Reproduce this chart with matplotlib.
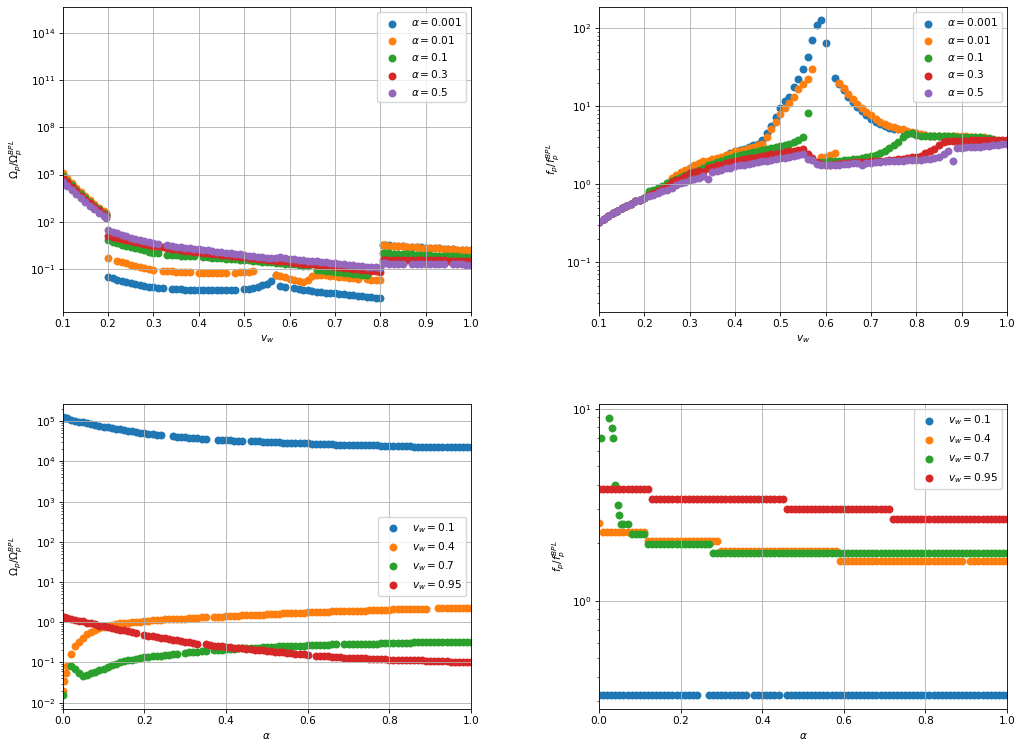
import numpy as np
import matplotlib
matplotlib.use('Agg')
import matplotlib.pyplot as plt

nan = np.nan

# ---------------- top-left: Omega_p / Omega_p^BPL vs v_w (log10 values) ----------------
alphas_top = [0.001, 0.01, 0.1, 0.3, 0.5]
vw_tl = np.round(np.concatenate([np.linspace(0.10, 0.19, 10), [0.195],
                                 np.linspace(0.20, 0.80, 61), [0.805],
                                 np.linspace(0.81, 1.00, 20)]), 3)

logO_a0001 = [4.95, 4.65, 4.35, 4.06, 3.79, 3.53, 3.28, 3.04, 2.82, 2.60,
              2.50,
              -1.51, -1.62, -1.71, -1.79, -1.86, -1.93, -1.99, -2.05, -2.10, -2.15,
              -2.19, -2.22, -2.25, nan, -2.29, -2.31, -2.32, -2.33, -2.34, -2.35,
              -2.36, -2.36, -2.36, -2.36, -2.36, -2.36, -2.35, -2.35, -2.34, nan,
              -2.31, -2.28, -2.23, -2.16, -2.07, -1.96, -1.80, -1.42, -2.10, -2.16,
              nan, -2.24, -2.29, -2.34, -2.38, -2.42, -2.46, -2.49, -2.52, -2.55,
              -2.58, -2.61, -2.64, -2.67, -2.70, -2.73, -2.76, -2.79, -2.82, -2.85,
              -2.88,
              0.52,
              0.50, 0.48, 0.46, 0.45, 0.43, 0.41, 0.40, 0.38, 0.36, 0.34,
              0.33, 0.31, 0.29, 0.28, 0.26, 0.24, 0.22, 0.21, 0.19, 0.17]
logO_a001 = [5.10, 4.78, 4.47, 4.17, 3.89, 3.62, 3.36, 3.11, 2.88, 2.66,
             2.55,
             -0.30, nan, -0.50, -0.58, -0.66, -0.76, -0.84, -0.91, -0.97, -1.02,
             -1.06, nan, -1.12, -1.15, -1.17, -1.19, -1.21, -1.22, -1.23, nan,
             -1.25, -1.26, -1.26, -1.26, -1.26, -1.26, -1.26, nan, -1.25, -1.24,
             -1.22, -1.20, -1.17, nan, nan, nan, nan, -1.40, -1.48, -1.56,
             -1.63, -1.70, -1.77, -1.84, -1.72, -1.48, -1.38, -1.40, -1.43, -1.46,
             -1.49, -1.52, -1.55, -1.58, -1.61, -1.64, nan, -1.68, -1.70, -1.72,
             -1.74,
             0.50,
             0.49, 0.47, 0.45, 0.44, 0.42, 0.40, 0.39, 0.37, 0.35, 0.34,
             0.32, 0.30, 0.29, 0.27, 0.25, 0.24, 0.22, 0.20, 0.19, 0.17]
logO_a01 = [4.90, 4.60, 4.31, 4.03, 3.76, 3.50, 3.25, 3.02, 2.80, 2.58,
            2.45,
            0.83, 0.72, 0.63, 0.54, 0.46, 0.38, 0.30, 0.23, 0.16, 0.09,
            0.03, -0.02, nan, -0.10, -0.12, -0.14, -0.16, -0.18, -0.20, -0.22,
            nan, -0.26, -0.28, -0.30, -0.32, -0.34, -0.36, -0.38, -0.40, -0.42,
            -0.45, -0.47, -0.50, -0.52, -0.55, -0.57, -0.60, -0.62, -0.64, -0.67,
            -0.70, -0.73, -0.76, -0.80, -0.84, nan, -1.08, -1.11, -1.14, -1.17,
            -1.20, -1.23, -1.26, -1.29, -1.32, -1.35, -1.38, -1.40, nan, nan,
            nan,
            0.00,
            -0.02, -0.03, -0.04, -0.05, -0.06, -0.08, -0.09, -0.10, -0.11, -0.13,
            -0.14, -0.16, -0.17, -0.18, -0.19, -0.21, -0.22, -0.23, -0.25, -0.26]
logO_a03 = [4.80, 4.50, 4.21, 3.93, 3.66, 3.41, 3.17, 2.94, 2.72, 2.50,
            2.38,
            1.10, 1.02, 0.94, 0.87, 0.80, 0.74, 0.68, 0.62, 0.57, 0.52,
            0.47, 0.42, 0.37, 0.31, 0.27, 0.23, 0.19, 0.15, 0.11, 0.07,
            0.04, 0.00, -0.03, -0.06, -0.09, -0.12, -0.15, -0.18, -0.21, -0.24,
            -0.27, -0.30, -0.33, -0.36, -0.39, -0.42, -0.45, -0.48, -0.51, -0.54,
            -0.58, -0.61, -0.64, -0.67, -0.70, -0.73, -0.76, -0.79, -0.82, -0.85,
            -0.88, -0.91, -0.94, -0.97, -1.00, -1.03, -1.06, -1.09, -1.12, -1.15,
            -1.18,
            -0.43,
            -0.43, -0.43, -0.44, -0.44, -0.44, -0.45, -0.45, -0.45, -0.46, -0.46,
            -0.46, -0.47, -0.47, -0.47, -0.48, -0.48, -0.48, -0.49, -0.49, -0.50]
logO_a05 = [4.55, 4.27, 4.00, 3.74, 3.49, 3.25, 3.02, 2.80, 2.58, 2.38,
            2.25,
            1.47, 1.36, 1.25, 1.15, 1.06, 0.98, 0.90, 0.83, 0.75, 0.68,
            0.62, 0.57, nan, 0.48, 0.44, 0.39, 0.36, 0.33, 0.30, 0.27,
            0.24, 0.20, 0.16, 0.12, 0.09, 0.05, 0.02, -0.02, -0.06, -0.09,
            -0.13, -0.17, -0.21, -0.25, -0.28, -0.32, -0.35, -0.33, -0.25, -0.33,
            -0.38, -0.41, -0.44, -0.46, -0.49, -0.51, -0.54, -0.57, -0.60, -0.63,
            -0.66, -0.69, -0.72, -0.75, -0.78, -0.81, -0.84, -0.87, -0.90, -0.92,
            -0.95,
            -0.66,
            -0.66, -0.67, -0.67, -0.68, -0.68, nan, -0.69, -0.69, -0.70, -0.70,
            -0.70, -0.71, -0.71, -0.72, nan, -0.72, -0.73, -0.73, -0.74, -0.74]

# ---------------- top-right: f_p / f_p^BPL vs v_w (log10 values) ----------------
vw_tr = np.round(np.linspace(0.10, 1.00, 91), 3)

logF_a0001 = [-0.49, -0.45, -0.41, -0.37, -0.34, -0.31, -0.28, -0.25, -0.22, -0.20, -0.18,
              -0.12, -0.10, -0.07, -0.04, 0.00, 0.05, 0.10, 0.13, 0.17, 0.20,
              0.22, 0.24, 0.26, 0.28, 0.30, 0.32, 0.34, 0.36, 0.40, 0.43,
              0.44, 0.45, 0.47, 0.50, 0.52, 0.57, 0.65, 0.74, 0.86, 0.98,
              1.06, 1.11, 1.25, 1.35, 1.47, 1.63, 1.85, 2.04, 2.10, 1.81,
              nan, 1.36, 1.28, 1.20, 1.12, 1.05, 0.99, 0.94, 0.89, 0.84,
              0.80, 0.77, 0.74, 0.72, 0.71, 0.70, 0.69, 0.67, 0.66, 0.65,
              0.63, 0.63, 0.62, 0.62, 0.62, nan, nan, nan, nan, nan,
              nan, nan, nan, nan, nan, nan, nan, nan, nan, nan]
logF_a001 = [-0.49, -0.45, -0.41, -0.37, -0.34, -0.31, -0.28, -0.25, -0.22, -0.20, -0.18,
             -0.13, -0.11, -0.08, -0.05, 0.02, 0.08, 0.12, 0.15, 0.18, 0.21,
             0.25, 0.27, 0.29, 0.30, 0.32, 0.33, 0.35, 0.37, 0.39, 0.42,
             0.43, 0.44, 0.46, 0.48, 0.50, 0.51, 0.60, 0.70, 0.80, 0.90,
             0.97, 1.04, 1.12, 1.22, 1.28, 1.35, 1.47, nan, 0.35, 0.35,
             0.37, 0.40, 1.30, 1.23, 1.16, 1.09, 1.03, 0.98, 0.93, 0.88,
             0.83, 0.80, 0.77, 0.75, 0.73, 0.71, 0.70, 0.68, 0.67, 0.65,
             0.64, 0.63, 0.62, 0.62, 0.62, 0.62, 0.61, 0.61, 0.61, 0.61,
             0.61, 0.60, 0.60, 0.60, 0.60, nan, nan, nan, nan, nan]
logF_a01 = [-0.49, -0.45, -0.41, -0.37, -0.34, -0.31, -0.28, -0.25, -0.22, -0.20, -0.18,
            -0.09, -0.07, -0.05, -0.03, 0.01, 0.04, 0.07, 0.09, 0.12, 0.14,
            0.16, 0.18, 0.20, 0.25, 0.26, 0.28, 0.30, 0.32, 0.34, 0.36,
            0.37, 0.38, 0.40, 0.41, 0.42, 0.44, 0.45, 0.46, 0.47, 0.49,
            0.50, 0.52, 0.54, 0.57, 0.60, 0.91, nan, 0.27, 0.28, 0.28,
            0.29, 0.30, 0.30, 0.31, 0.31, 0.32, 0.32, 0.33, 0.35, 0.36,
            0.37, 0.40, 0.42, 0.46, 0.50, 0.54, 0.60, 0.64, 0.65, 0.63,
            0.62, 0.62, 0.61, 0.61, 0.61, 0.61, 0.61, 0.61, 0.60, 0.60,
            0.60, 0.60, 0.60, 0.60, 0.59, 0.59, 0.58, nan, nan, nan]
logF_a03 = [-0.49, -0.45, -0.41, -0.37, -0.34, -0.31, -0.28, -0.25, -0.22, -0.20, -0.18,
            -0.14, -0.12, -0.09, -0.06, -0.03, 0.03, 0.05, 0.07, 0.10, 0.14,
            0.16, 0.17, 0.15, 0.20, 0.22, 0.24, 0.25, 0.27, 0.28, 0.30,
            0.31, 0.32, 0.33, 0.34, 0.35, 0.36, 0.37, 0.38, 0.39, 0.40,
            0.41, 0.42, 0.43, 0.44, 0.45, 0.38, 0.33, 0.28, 0.26, 0.25,
            0.25, 0.26, 0.26, 0.27, 0.27, 0.28, 0.28, 0.28, 0.28, 0.29,
            0.29, 0.30, 0.30, 0.31, 0.31, 0.32, 0.32, 0.34, 0.35, 0.35,
            0.36, 0.40, 0.42, 0.45, 0.50, 0.54, 0.55, 0.55, 0.55, 0.55,
            0.55, 0.56, 0.56, 0.56, 0.56, 0.56, 0.57, 0.57, 0.57, 0.57]
logF_a05 = [-0.49, -0.45, -0.41, -0.37, -0.34, -0.31, -0.28, -0.25, -0.22, -0.20, -0.18,
            -0.15, -0.14, -0.11, -0.09, -0.07, -0.05, -0.01, 0.01, 0.03, 0.05,
            0.07, 0.08, 0.10, 0.06, 0.16, 0.17, 0.18, 0.20, 0.21, 0.23,
            0.24, 0.25, 0.26, 0.27, 0.28, 0.29, 0.30, 0.31, 0.32, 0.33,
            0.34, 0.35, 0.36, 0.37, 0.38, 0.32, 0.31, 0.26, 0.25, 0.24,
            0.24, 0.25, 0.25, 0.26, 0.26, 0.27, 0.27, 0.25, 0.27, 0.27,
            0.28, 0.28, 0.29, 0.29, 0.30, 0.30, 0.30, 0.31, 0.31, 0.31,
            0.31, 0.32, 0.32, 0.33, 0.35, 0.38, 0.42, 0.30, 0.46, 0.46,
            0.47, 0.47, 0.48, 0.48, 0.49, 0.49, 0.50, 0.50, 0.51, 0.51]

# ---------------- bottom-left: Omega_p / Omega_p^BPL vs alpha (log10 values) ----------------
vws_bottom = [0.1, 0.4, 0.7, 0.95]
alpha_bl = np.round(np.concatenate([[0.001, 0.004, 0.007], np.linspace(0.01, 1.00, 100)]), 3)

logO_v01 = [5.10, 5.09, 5.08, 5.07,
            5.04, 5.01, 4.99, 4.97, 4.95, 4.93, 4.91, 4.89, 4.87,
            4.85, 4.83, 4.81, 4.80, 4.78, 4.76, 4.75, 4.73, 4.72, 4.70,
            4.69, 4.68, 4.67, 4.66, nan, nan, 4.63, 4.62, 4.61, 4.60,
            4.59, 4.58, 4.58, 4.57, 4.56, nan, nan, 4.54, 4.54, 4.53,
            4.53, 4.52, 4.52, 4.51, nan, 4.51, 4.50, 4.50, 4.49, 4.49,
            4.49, 4.48, 4.48, 4.47, 4.47, 4.46, 4.46, 4.45, 4.45, 4.45,
            4.44, 4.44, 4.44, 4.43, 4.43, 4.43, 4.42, 4.42, 4.42, 4.42,
            4.41, 4.41, 4.41, 4.40, 4.40, 4.40, 4.40, 4.39, 4.39, 4.39,
            4.39, 4.38, 4.38, 4.38, 4.38, 4.37, 4.37, 4.37, 4.37, 4.37,
            4.36, 4.36, 4.36, 4.36, 4.36, 4.35, 4.35, 4.35, 4.35, 4.35]
logO_v04 = [-1.70, -1.45, -1.25, -1.08,
            -0.78, -0.60, -0.48, -0.38, -0.30, -0.24, -0.19, -0.15, -0.12,
            -0.09, -0.07, -0.05, -0.03, -0.02, -0.01, 0.00, 0.01, 0.01, 0.02,
            0.04, 0.05, 0.05, 0.06, 0.07, 0.07, 0.08, 0.08, 0.09, 0.09,
            0.10, 0.11, 0.11, 0.12, 0.12, nan, 0.13, 0.14, 0.14, 0.15,
            0.15, 0.16, 0.16, 0.17, 0.17, 0.18, 0.18, 0.19, 0.19, 0.20,
            0.20, 0.21, 0.21, 0.22, 0.22, 0.23, 0.23, 0.24, 0.24, 0.25,
            0.25, 0.25, 0.26, 0.26, 0.26, 0.27, 0.27, 0.27, 0.28, 0.28,
            0.28, 0.29, 0.29, 0.29, 0.30, 0.30, 0.30, 0.31, 0.31, 0.31,
            0.32, 0.32, 0.32, 0.33, 0.33, 0.33, 0.34, 0.34, 0.34, nan,
            nan, 0.35, 0.35, 0.35, 0.35, 0.36, 0.36, 0.36, 0.36, 0.36]
logO_v07 = [-1.82, nan, nan, nan,
            -1.08, -1.15, -1.26, -1.33, -1.31, -1.27, -1.23, -1.19, -1.15,
            -1.11, -1.07, -1.03, -1.00, -0.97, -0.95, -0.93, -0.91, -0.89, -0.87,
            -0.86, -0.85, -0.84, -0.83, -0.82, -0.81, -0.80, -0.79, nan, -0.76,
            -0.75, -0.74, -0.73, -0.72, -0.71, nan, -0.69, -0.68, -0.68, -0.67,
            -0.66, -0.66, -0.65, -0.65, -0.64, -0.64, -0.63, -0.63, -0.62, -0.62,
            -0.61, -0.61, -0.60, -0.60, -0.59, -0.59, -0.58, -0.58, -0.58, -0.57,
            -0.57, -0.57, -0.56, -0.56, -0.56, -0.55, -0.55, nan, -0.55, -0.54,
            -0.54, -0.54, -0.54, -0.53, -0.53, -0.53, -0.53, -0.52, -0.52, -0.52,
            -0.52, -0.51, -0.51, -0.51, -0.51, -0.50, -0.50, -0.50, -0.50, -0.50,
            -0.49, -0.49, -0.49, -0.49, -0.49, -0.48, -0.48, -0.48, -0.48, -0.48]
logO_v095 = [0.13, 0.12, 0.11, 0.10,
             0.08, 0.06, 0.04, 0.02, -0.01, -0.03, -0.05, -0.08, -0.10,
             -0.12, -0.14, -0.16, -0.18, -0.20, -0.22, -0.24, -0.27, nan, -0.31,
             -0.33, -0.35, -0.37, -0.38, -0.40, -0.42, -0.43, -0.45, -0.47, -0.48,
             -0.50, -0.51, -0.53, nan, -0.55, -0.56, -0.58, -0.59, -0.60, -0.61,
             -0.62, -0.63, -0.64, -0.65, -0.66, -0.67, -0.68, -0.69, -0.70, -0.71,
             -0.72, -0.73, -0.74, -0.75, -0.76, -0.77, -0.78, -0.79, -0.80, -0.81,
             nan, -0.83, -0.84, -0.85, -0.85, -0.86, -0.87, -0.87, -0.88, -0.88,
             -0.89, -0.89, -0.90, -0.90, -0.91, -0.91, -0.92, -0.92, -0.92, -0.93,
             -0.93, -0.93, -0.94, -0.94, -0.94, -0.95, -0.95, -0.95, -0.96, -0.96,
             -0.96, -0.97, -0.97, -0.97, -0.98, -0.98, -0.98, -0.99, -0.99, -0.99]

# ---------------- bottom-right: f_p / f_p^BPL vs alpha (plateau values) ----------------
alpha_br = np.round(np.linspace(0.0, 1.0, 101), 3)

F_v01 = [0.321] * 25 + [nan] * 2 + [0.321] * 10 + [nan] + [0.321] * 7 + [nan] + [0.321] * 55
F_v04 = [2.55] + [2.28] * 11 + [2.04] * 18 + [1.82] * 29 + [1.60] * 31 + [nan] + [1.60] * 10
F_v07 = [nan] * 6 + [2.50] * 2 + [2.23] * 4 + [1.98] * 16 + [1.77] * 73
F_v095 = [3.80] * 13 + [3.37] * 33 + [3.01] * 26 + [2.67] * 29
alpha_v07_low = [0.005, 0.025, 0.032, 0.035, 0.040, 0.047, 0.050, 0.055]
F_v07_low = [7.06, 8.94, 7.93, 7.06, 3.99, 3.14, 2.80, 2.50]

for arr in [logO_a0001, logO_a001, logO_a01, logO_a03, logO_a05]:
    assert len(arr) == len(vw_tl), len(arr)
for arr in [logF_a0001, logF_a001, logF_a01, logF_a03, logF_a05]:
    assert len(arr) == len(vw_tr), len(arr)
for arr in [logO_v01, logO_v04, logO_v07, logO_v095]:
    assert len(arr) == len(alpha_bl), len(arr)
for arr in [F_v01, F_v04, F_v07, F_v095]:
    assert len(arr) == len(alpha_br), len(arr)

# the reference looks like a figure rendered larger and scaled down by ~0.76
k = 0.76
plt.rcParams.update({
    'font.size': 10 * k,
    'axes.linewidth': 0.8 * k,
    'grid.linewidth': 0.8 * k,
    'xtick.major.size': 3.5 * k, 'ytick.major.size': 3.5 * k,
    'xtick.minor.size': 2.0 * k, 'ytick.minor.size': 2.0 * k,
    'xtick.major.width': 0.8 * k, 'ytick.major.width': 0.8 * k,
    'xtick.minor.width': 0.6 * k, 'ytick.minor.width': 0.6 * k,
    'xtick.major.pad': 3.5 * k, 'ytick.major.pad': 3.5 * k,
    'axes.labelpad': 4.0 * k,
    'legend.fontsize': 10 * k,
    'lines.linewidth': 1.5 * k,
})

colors = ['C0', 'C1', 'C2', 'C3', 'C4']
msize = 36 * k * k
mlw = 1.5 * k

fig = plt.figure(figsize=(10.18, 7.45), dpi=100)
W, H = 1018.0, 745.0
ax_tl = fig.add_axes([62.7 / W, 1 - 312 / H, 408.3 / W, 305 / H])
ax_tr = fig.add_axes([599 / W, 1 - 312 / H, 408 / W, 305 / H])
ax_bl = fig.add_axes([62.7 / W, 1 - 709 / H, 408.3 / W, 305 / H])
ax_br = fig.add_axes([599 / W, 1 - 709 / H, 408 / W, 305 / H])

# top-left
for a, ys, c in zip(alphas_top, [logO_a0001, logO_a001, logO_a01, logO_a03, logO_a05], colors):
    ax_tl.scatter(vw_tl, 10 ** np.array(ys), s=msize, linewidths=mlw, color=c,
                  label=r'$\alpha = %s$' % a)
ax_tl.set_yscale('log')
ax_tl.set_xlim(0.1, 1.0)
ax_tl.set_ylim(10 ** -3.76, 10 ** 15.68)
ax_tl.set_xlabel(r'$v_w$')
ax_tl.set_ylabel(r'$\Omega_p/\Omega_p^{BPL}$')
ax_tl.grid(True)
ax_tl.legend(loc='upper right')

# top-right
for a, ys, c in zip(alphas_top, [logF_a0001, logF_a001, logF_a01, logF_a03, logF_a05], colors):
    ax_tr.scatter(vw_tr, 10 ** np.array(ys), s=msize, linewidths=mlw, color=c,
                  label=r'$\alpha = %s$' % a)
ax_tr.set_yscale('log')
ax_tr.set_xlim(0.1, 1.0)
ax_tr.set_ylim(10 ** -1.64, 10 ** 2.27)
ax_tr.set_xlabel(r'$v_w$')
ax_tr.set_ylabel(r'$f_p/f_p^{BPL}$')
ax_tr.grid(True)
ax_tr.legend(loc='upper right')

# bottom-left
for v, ys, c in zip(vws_bottom, [logO_v01, logO_v04, logO_v07, logO_v095], colors):
    ax_bl.scatter(alpha_bl, 10 ** np.array(ys), s=msize, linewidths=mlw, color=c,
                  label=r'$v_w = %s$' % v)
ax_bl.set_yscale('log')
ax_bl.set_xlim(0.0, 1.0)
ax_bl.set_ylim(10 ** -2.157, 10 ** 5.43)
ax_bl.set_xlabel(r'$\alpha$')
ax_bl.set_ylabel(r'$\Omega_p/\Omega_p^{BPL}$')
ax_bl.grid(True)
ax_bl.legend(loc='center right')

# bottom-right
br_x = [alpha_br, alpha_br, np.concatenate([alpha_v07_low, alpha_br]), alpha_br]
br_y = [F_v01, F_v04, np.concatenate([F_v07_low, F_v07]), F_v095]
for v, xs, ys, c in zip(vws_bottom, br_x, br_y, colors):
    ax_br.scatter(xs, np.array(ys, dtype=float), s=msize, linewidths=mlw, color=c,
                  label=r'$v_w = %s$' % v)
ax_br.set_yscale('log')
ax_br.set_xlim(0.0, 1.0)
ax_br.set_ylim(10 ** -0.564, 10 ** 1.024)
ax_br.set_xlabel(r'$\alpha$')
ax_br.set_ylabel(r'$f_p/f_p^{BPL}$')
ax_br.grid(True)
ax_br.legend(loc='upper right')

fig.savefig('out.png', dpi=100)
